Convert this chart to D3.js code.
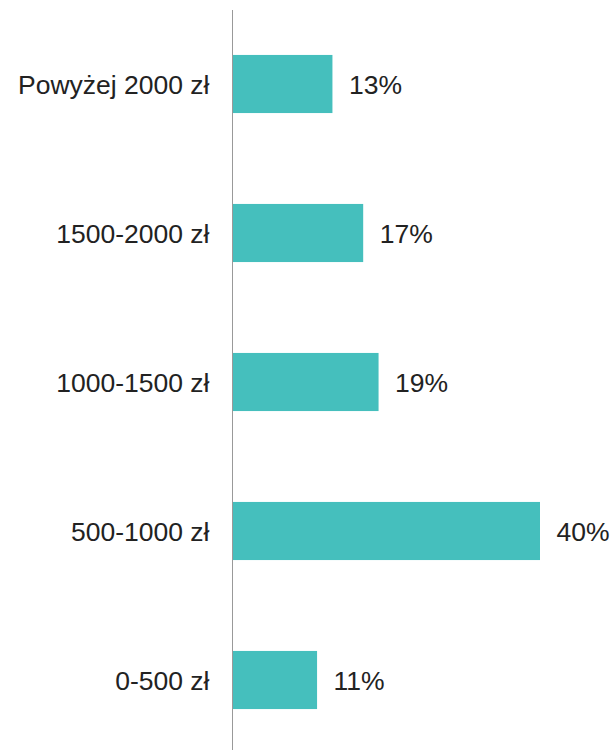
<!DOCTYPE html>
<html>
<head>
<meta charset="utf-8">
<script src="https://cdn.jsdelivr.net/npm/d3@7"></script>
<style>
	body { margin: 0; background: #fff; }
	text { font-family: "Liberation Sans", Arial, sans-serif; fill: #222; }
</style>
</head>
<body>
<svg id="chart" width="614" height="750"></svg>
<script>
//chart data, top to bottom
var categories = ["Powyżej 2000 zł", "1500-2000 zł", "1000-1500 zł", "500-1000 zł", "0-500 zł"];
var values = [13, 17, 19, 40, 11];

var svg = d3.select("#chart");
var axisX = 232.5;
var fontSize = 26.5;

var x = d3.scaleLinear()
	.domain([0, 40])
	.range([axisX, 540]);

var y = d3.scaleBand()
	.domain(categories)
	.range([9.5, 754.5])
	.paddingInner(0.61)
	.paddingOuter(0.305);

var rows = categories.map(function(c, i){ return {name: c, value: values[i]}; });

//bars
svg.selectAll("rect.bar")
	.data(rows)
	.enter().append("rect")
	.attr("class", "bar")
	.attr("x", x(0))
	.attr("y", function(d){ return y(d.name); })
	.attr("width", function(d){ return x(d.value) - x(0); })
	.attr("height", y.bandwidth())
	.style("fill", "#45bfbd");

//category labels
svg.selectAll("text.cat")
	.data(rows)
	.enter().append("text")
	.attr("class", "cat")
	.attr("x", axisX - 23)
	.attr("y", function(d){ return y(d.name) + y.bandwidth() / 2 + 1; })
	.attr("dy", "0.35em")
	.attr("text-anchor", "end")
	.style("font-size", fontSize + "px")
	.text(function(d){ return d.name; });

//value labels
svg.selectAll("text.val")
	.data(rows)
	.enter().append("text")
	.attr("class", "val")
	.attr("x", function(d){ return x(d.value) + 16.5; })
	.attr("y", function(d){ return y(d.name) + y.bandwidth() / 2 + 1; })
	.attr("dy", "0.35em")
	.style("font-size", fontSize + "px")
	.text(function(d){ return d.value + "%"; });

//vertical axis line
svg.append("line")
	.attr("x1", axisX).attr("x2", axisX)
	.attr("y1", 10).attr("y2", 750)
	.style("stroke", "#999")
	.style("stroke-width", 1);
</script>
</body>
</html>
